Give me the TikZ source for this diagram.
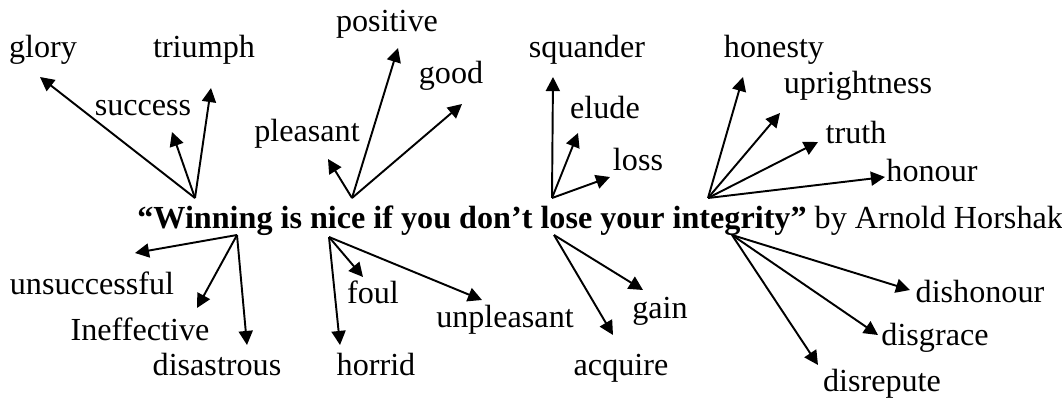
\documentclass[tikz,border=0pt]{standalone}
\usepackage{fontspec}
\setmainfont{Liberation Serif}
\usetikzlibrary{arrows.meta,positioning}

\begin{document}
\begin{tikzpicture}[x=0.02cm,y=-0.02cm,>={Triangle[length=8pt,width=8pt]},
  word/.style={font=\fontsize{18.3}{20}\selectfont,inner sep=0pt},
  link/.style={->,line width=1.1pt}]
\useasboundingbox (0,0) rectangle (1062,399);
\node[word,anchor=base west] (quote) at (137,228)
  {\textbf{“Winning is nice if you don’t lose your integrity”} by Arnold Horshak};

% roots of the arrows, above and below the quote
\coordinate (winA) at (195,198);
\coordinate (niceA) at (352,198);
\coordinate (loseA) at (552,198);
\coordinate (intA) at (708,198);
\coordinate (winB) at (237,235);
\coordinate (niceB) at (329,237);
\coordinate (loseB) at (554,235);
\coordinate (intB) at (732,235);

% words above
\node[word] (glory) at (43,50) {glory};
\node[word] (triumph) at (204,50) {triumph};
\node[word] (success) at (143,108) {success};
\node[word] (pleasant) at (307,134) {pleasant};
\node[word] (positive) at (387,24) {positive};
\node[word] (good) at (451,76) {good};
\node[word] (squander) at (587,50) {squander};
\node[word] (elude) at (605,108) {elude};
\node[word] (loss) at (638,160) {loss};
\node[word] (honesty) at (774,50) {honesty};
\node[word] (uprightness) at (858,86) {uprightness};
\node[word] (truth) at (856,133) {truth};
\node[word] (honour) at (932,171) {honour};

% words below
\node[word] (unsuccessful) at (92,283) {unsuccessful};
\node[word] (ineffective) at (140,329) {Ineffective};
\node[word] (disastrous) at (217,364) {disastrous};
\node[word] (foul) at (373,292) {foul};
\node[word] (horrid) at (376,364) {horrid};
\node[word] (unpleasant) at (505,320) {unpleasant};
\node[word] (gain) at (660,311) {gain};
\node[word] (acquire) at (621,368) {acquire};
\node[word] (dishonour) at (980,292) {dishonour};
\node[word] (disgrace) at (935,338) {disgrace};
\node[word] (disrepute) at (882,384) {disrepute};

% arrow tips
\coordinate (glory-t) at (40,77);
\coordinate (success-t) at (172,132);
\coordinate (triumph-t) at (211,88);
\coordinate (pleasant-t) at (328,159);
\coordinate (positive-t) at (398,48);
\coordinate (good-t) at (462,104);
\coordinate (squander-t) at (553,77);
\coordinate (elude-t) at (578,133);
\coordinate (loss-t) at (610,177);
\coordinate (honesty-t) at (743,77);
\coordinate (uprightness-t) at (780,113);
\coordinate (truth-t) at (818,142);
\coordinate (honour-t) at (885,177);
\coordinate (unsuccessful-t) at (135,253);
\coordinate (ineffective-t) at (197,308);
\coordinate (disastrous-t) at (247,345);
\coordinate (foul-t) at (363,277);
\coordinate (horrid-t) at (340,345);
\coordinate (unpleasant-t) at (482,300);
\coordinate (gain-t) at (643,290);
\coordinate (acquire-t) at (613,335);
\coordinate (dishonour-t) at (910,290);
\coordinate (disgrace-t) at (878,335);
\coordinate (disrepute-t) at (818,365);

\foreach \w in {glory,success,triumph} \draw[link] (winA) -- (\w-t);
\foreach \w in {pleasant,positive,good} \draw[link] (niceA) -- (\w-t);
\foreach \w in {squander,elude,loss} \draw[link] (loseA) -- (\w-t);
\foreach \w in {honesty,uprightness,truth,honour} \draw[link] (intA) -- (\w-t);
\foreach \w in {unsuccessful,ineffective,disastrous} \draw[link] (winB) -- (\w-t);
\foreach \w in {foul,horrid,unpleasant} \draw[link] (niceB) -- (\w-t);
\foreach \w in {gain,acquire} \draw[link] (loseB) -- (\w-t);
\foreach \w in {dishonour,disgrace,disrepute} \draw[link] (intB) -- (\w-t);
\end{tikzpicture}
\end{document}
